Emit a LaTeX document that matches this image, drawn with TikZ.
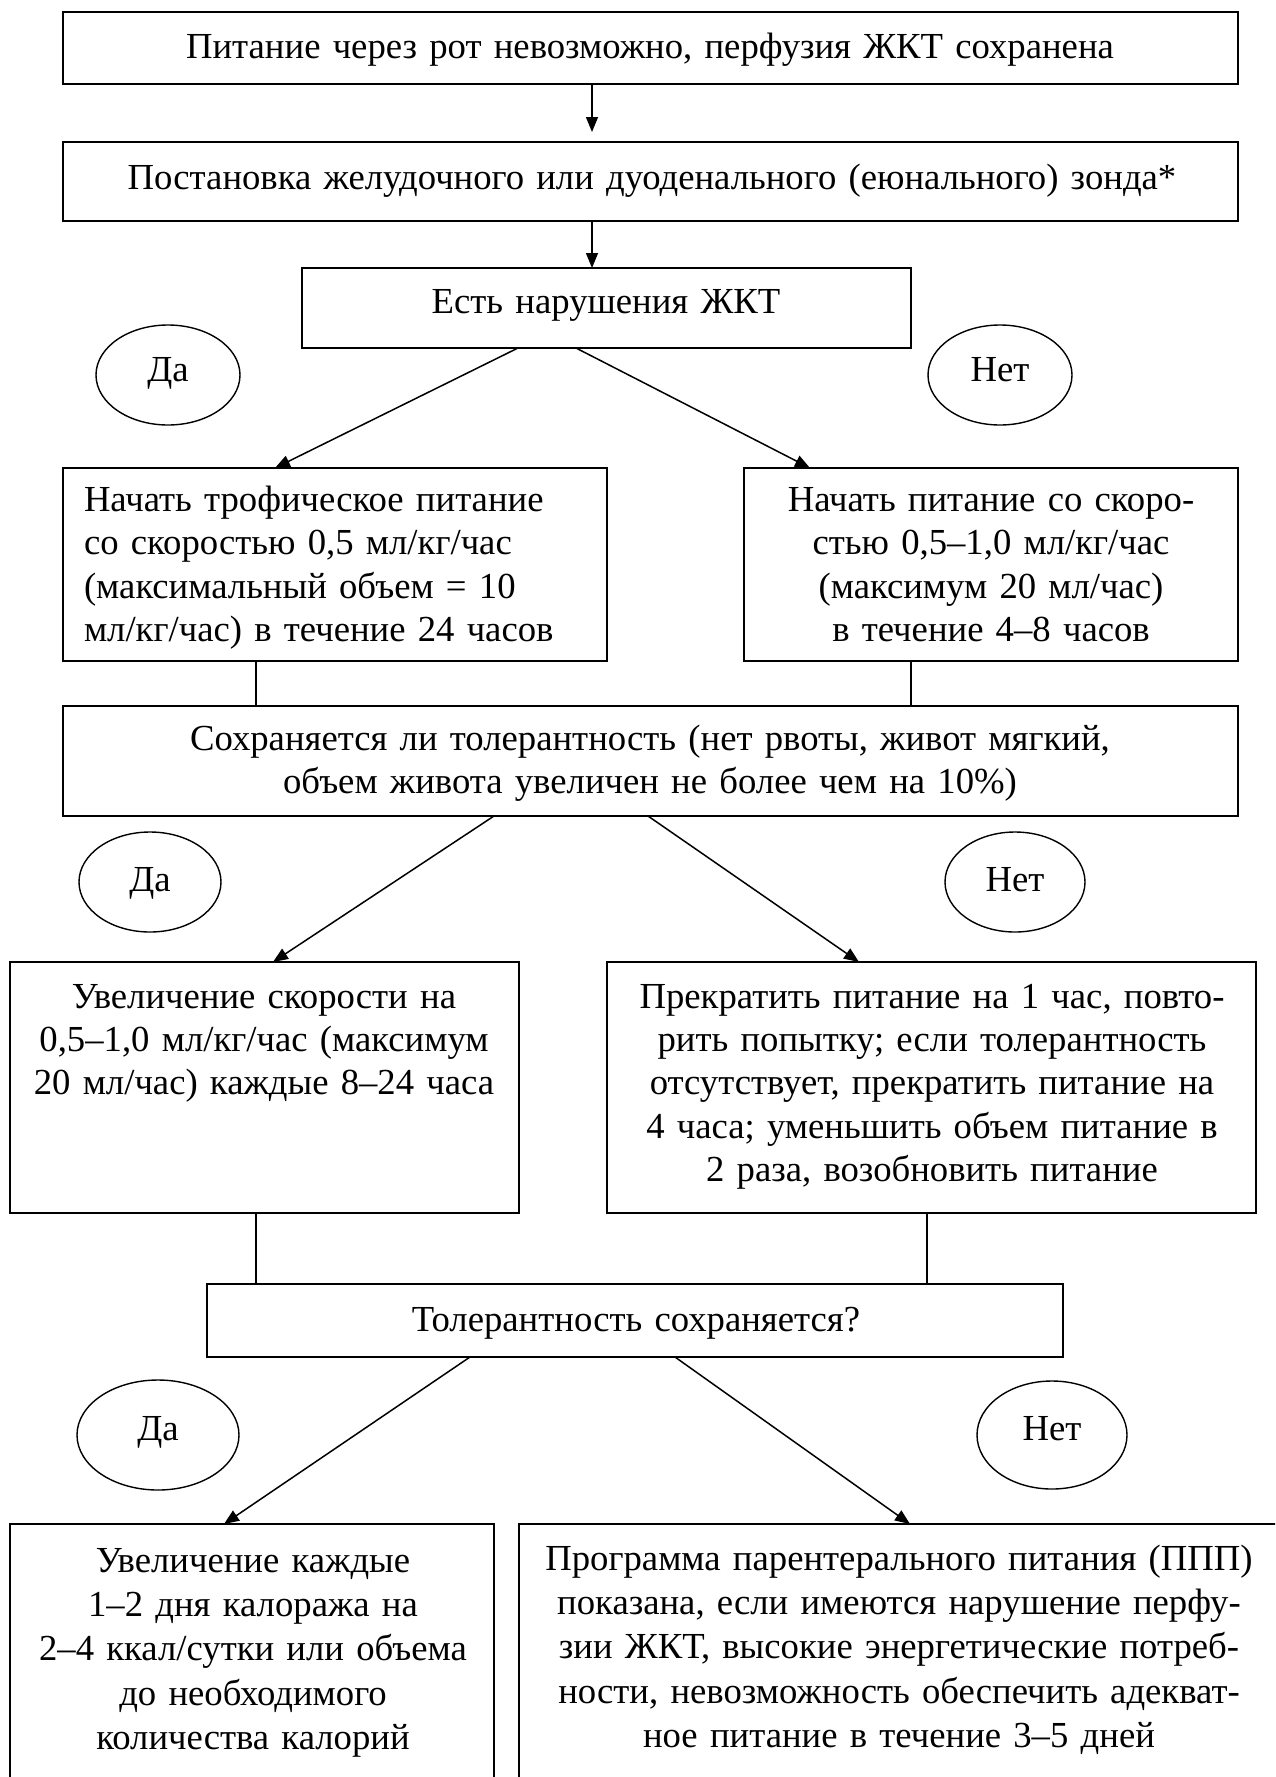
\documentclass[tikz,border=0pt]{standalone}
\usepackage{fontspec}
\setmainfont{Liberation Serif}
\usetikzlibrary{arrows.meta,shapes.geometric}
\tikzset{
  box/.style={draw, line width=1.9pt, inner sep=0pt, outer sep=0pt},
  oval/.style={draw, ellipse, line width=1.4pt, inner sep=0pt, outer sep=0pt},
  conn/.style={line width=1.5pt},
  arr/.style={conn, -{Triangle[length=15pt,width=12pt]}},
  txt/.style={inner sep=0pt, outer sep=0pt, anchor=base, font=\fontsize{36.7}{43.4}\selectfont},
  txtb/.style={inner sep=0pt, outer sep=0pt, anchor=base, font=\fontsize{36.7}{44.4}\selectfont},
}
% box: name, x1, y1, x2, y2 (pixels, y downward)
\newcommand\mkbox[5]{\node[box, minimum width={#4pt-#2pt}, minimum height={#5pt-#3pt}] (#1) at ({(#2+#4)/2},{(#3+#5)/2}) {};}
% oval: name, cx, cy, rx, ry
\newcommand\mkoval[5]{\node[oval, minimum width={2*#4pt}, minimum height={2*#5pt}] (#1) at (#2,#3) {};}
\begin{document}
\begin{tikzpicture}[x=1pt,y=-1pt]
\useasboundingbox (0,0) rectangle (1275,1777);
\clip (0,0) rectangle (1275,1777);
\fill[white] (0,0) rectangle (1275,1777);

% boxes
\mkbox{b1}{63}{12}{1238}{84}
\mkbox{b2}{63}{142}{1238}{221}
\mkbox{b3}{302}{268}{911}{348}
\mkbox{bA}{63}{468}{607}{661}
\mkbox{bB}{744}{468}{1238}{661}
\mkbox{bC}{63}{706}{1238}{816}
\mkbox{bD}{10}{962}{519}{1213}
\mkbox{bE}{607}{962}{1256}{1213}
\mkbox{bF}{207}{1284}{1063}{1357}
\mkbox{bG}{10}{1524}{494}{1800}
\mkbox{bH}{519}{1524}{1290}{1800}

% ovals
\mkoval{y1}{168}{375}{72}{50}
\mkoval{n1}{1000}{375}{72}{50}
\mkoval{y2}{150}{882}{71}{50}
\mkoval{n2}{1015}{882}{70}{50}
\mkoval{y3}{158}{1435}{81}{55}
\mkoval{n3}{1052}{1435}{75}{54}

% texts
\node[txt, text width=1150pt, align=center] (t1) at (650,59) {Питание через рот невозможно, перфузия ЖКТ сохранена};
\node[txt, text width=1150pt, align=center] (t2) at (652,189.5) {Постановка желудочного или дуоденального (еюнального) зонда*};
\node[txt, text width=600pt, align=center] (t3) at (606,313) {Есть нарушения ЖКТ};
\node[txt, text width=520pt, align=left, anchor=base west] (tA) at (84,511.5) {Начать трофическое питание\\со скоростью 0,5 мл/кг/час\\(максимальный объем = 10\\мл/кг/час) в течение 24 часов};
\node[txt, text width=490pt, align=center] (tB) at (991,511.5) {Начать питание со скоро-\\стью 0,5–1,0 мл/кг/час\\(максимум 20 мл/час)\\в течение 4–8 часов};
\node[txt, text width=1150pt, align=center] (tC) at (650,750.5) {Сохраняется ли толерантность (нет рвоты, живот мягкий,\\объем живота увеличен не более чем на 10\%)};
\node[txt, text width=505pt, align=center] (tD) at (264,1008) {Увеличение скорости на\\0,5–1,0 мл/кг/час (максимум\\20 мл/час) каждые 8–24 часа};
\node[txt, text width=645pt, align=center] (tE) at (932,1008) {Прекратить питание на 1 час, повто-\\рить попытку; если толерантность\\отсутствует, прекратить питание на\\4 часа; уменьшить объем питание в\\2 раза, возобновить питание};
\node[txt, text width=850pt, align=center] (tF) at (636,1331) {Толерантность сохраняется?};
\node[txtb, text width=480pt, align=center] (tG) at (253,1572) {Увеличение каждые\\1–2 дня калоража на\\2–4 ккал/сутки или объема\\до необходимого\\количества калорий};
\node[txtb, text width=740pt, align=center] (tH) at (899,1570) {Программа парентерального питания (ППП)\\показана, если имеются нарушение перфу-\\зии ЖКТ, высокие энергетические потреб-\\ности, невозможность обеспечить адекват-\\ное питание в течение 3–5 дней};

\node[txt] (ty1) at (168,381.5) {Да};
\node[txt] (tn1) at (1000,381.5) {Нет};
\node[txt] (ty2) at (150,891) {Да};
\node[txt] (tn2) at (1015,891) {Нет};
\node[txt] (ty3) at (158,1440) {Да};
\node[txt] (tn3) at (1052,1440) {Нет};

% connectors
\draw[arr, shorten >=10pt] ([xshift=529pt]b1.south west) -- ([xshift=529pt]b2.north west);
\draw[arr] ([xshift=529pt]b2.south west) -- ([xshift=290pt]b3.north west);
\draw[arr] ([xshift=216pt]b3.south west) -- ([xshift=212pt]bA.north west);
\draw[arr] ([xshift=274pt]b3.south west) -- ([xshift=66pt]bB.north west);
\draw[conn] ([xshift=193pt]bA.south west) -- ([xshift=193pt]bC.north west);
\draw[conn] ([xshift=167pt]bB.south west) -- ([xshift=848pt]bC.north west);
\draw[arr] ([xshift=431pt]bC.south west) -- ([xshift=263pt]bD.north west);
\draw[arr] ([xshift=585pt]bC.south west) -- ([xshift=252pt]bE.north west);
\draw[conn] ([xshift=246pt]bD.south west) -- ([xshift=49pt]bF.north west);
\draw[conn] ([xshift=320pt]bE.south west) -- ([xshift=720pt]bF.north west);
\draw[arr] ([xshift=263pt]bF.south west) -- ([xshift=214pt]bG.north west);
\draw[arr] ([xshift=468pt]bF.south west) -- ([xshift=391pt]bH.north west);
\end{tikzpicture}
\end{document}
